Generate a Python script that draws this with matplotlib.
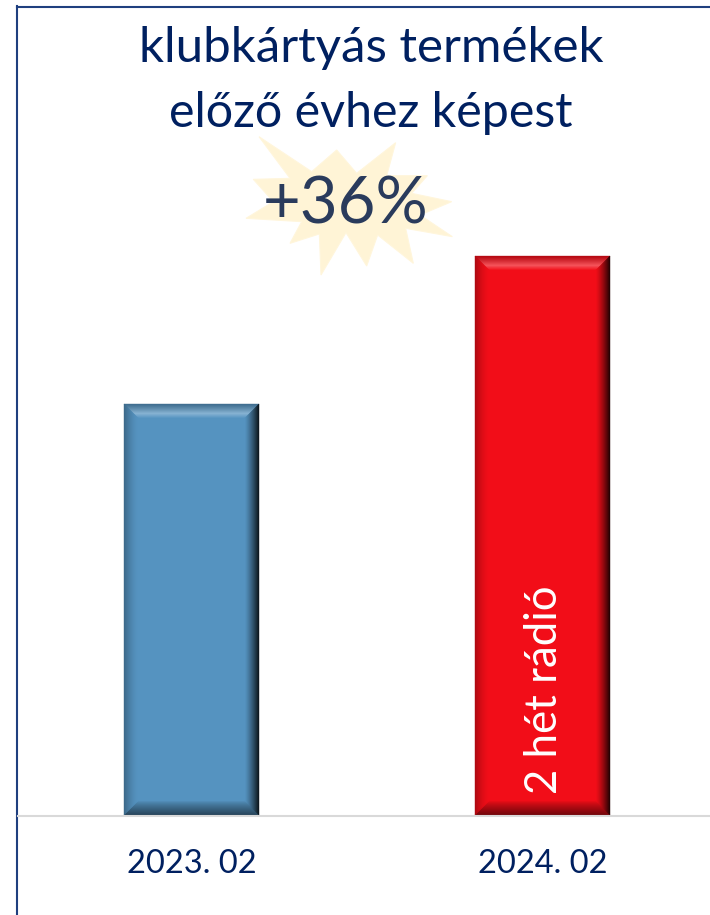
import numpy as np
import matplotlib
matplotlib.use("Agg")
import matplotlib.pyplot as plt
from matplotlib.patches import Polygon
from matplotlib.lines import Line2D
from matplotlib.colors import to_rgb

categories = ["2023. 02", "2024. 02"]
values = [100, 136]
bar_colors = ["#5593C0", "#F20D18"]
title_lines = ["klubkártyás termékek", "előző évhez képest"]
badge_text = "+36%"
bar_note = "2 hét rádió"

W, H = 710, 915
NAVY = "#002060"
plt.rcParams["font.family"] = ["Lato", "DejaVu Sans"]

fig = plt.figure(figsize=(W / 100, H / 100), dpi=100)
L, R, T, B = 17, 710, 6, 815
ax = fig.add_axes([L / W, 1 - B / H, (R - L) / W, (B - T) / H])
ax.set_xlim(-174.5 / 351, 1 + 167.5 / 351)
ax.set_ylim(0, (B - T) / 4.11)
ax.axis("off")


def px(x, y):
    return (x / W, 1 - y / H)


def mix(c, t, a):
    c, t = np.array(to_rgb(c)), np.array(to_rgb(t))
    return tuple(c + (t - c) * a)


def top_shade(col, u):
    # dark rim, bright ridge about two thirds in, then back to the face
    if u < 0.65:
        v = u / 0.65
        return mix(mix(col, "#000000", 0.25), mix(col, "#FFFFFF", 0.30), v ** 1.1)
    v = (u - 0.65) / 0.35
    return mix(mix(col, "#FFFFFF", 0.30), col, v)


bars = ax.bar(range(len(values)), values, width=135 / 351, color=bar_colors,
              linewidth=0, zorder=2)

# bevelled edge of every bar, built from the bar's own geometry
bevel = 15
inv = ax.transData.inverted()
for bar, col in zip(bars, bar_colors):
    x0, y0 = ax.transData.transform((bar.get_x(), 0))
    x1, y1 = ax.transData.transform((bar.get_x() + bar.get_width(), bar.get_height()))
    n = bevel
    for i in range(n):
        a, b = i, i + 1
        u = i / (n - 1)
        top = top_shade(col, u)
        left = mix(col, "#000000", 0.28 * (1 - u) ** 1.6)
        right = mix(col, "#000000", 0.85 * (1 - u) ** 1.3)
        bot = mix(col, "#000000", 0.52 * (1 - u) ** 0.8)
        sides = [
            ([(x0 + a, y1 - a), (x1 - a, y1 - a), (x1 - b, y1 - b), (x0 + b, y1 - b)], top),
            ([(x0 + a, y0 + a), (x1 - a, y0 + a), (x1 - b, y0 + b), (x0 + b, y0 + b)], bot),
            ([(x0 + a, y0 + a), (x0 + a, y1 - a), (x0 + b, y1 - b), (x0 + b, y0 + b)], left),
            ([(x1 - a, y0 + a), (x1 - a, y1 - a), (x1 - b, y1 - b), (x1 - b, y0 + b)], right),
        ]
        for pts, c in sides:
            ax.add_patch(Polygon(inv.transform(pts), closed=True, facecolor=c,
                                 edgecolor=c, linewidth=0.3, zorder=3))

# frame and baseline
fig.add_artist(Line2D([17 / W, 17 / W], [0, 1 - 5.5 / H], color="#1F3F7F", lw=1.5))
fig.add_artist(Line2D([16.5 / W, 1], [1 - 6.5 / H, 1 - 6.5 / H], color="#1F3F7F", lw=1.5))
fig.add_artist(Line2D([18 / W, 1], [1 - 815.5 / H] * 2, color="#D9D9D9", lw=1.5))

star_crop = [(57, 20), (215, 125), (290, 60), (350, 130), (467, 38), (440, 137), (562, 137),
             (515, 190), (635, 215), (540, 255), (637, 320), (497, 295), (520, 400), (413, 315),
             (380, 408), (318, 308), (243, 435), (238, 312), (150, 340), (185, 275), (18, 265),
             (100, 215), (40, 148), (150, 145)]
fig.add_artist(Polygon([px(240 + x / 3, 130 + y / 3) for x, y in star_crop], closed=True,
                       facecolor="#FFF4D6", edgecolor="#FFF6DC", linewidth=0.8,
                       transform=fig.transFigure, zorder=1))

fig.text(371.5 / W, 1 - 62 / H, title_lines[0], color=NAVY, fontsize=35.5, ha="center", va="baseline")
fig.text(370.5 / W, 1 - 127 / H, title_lines[1], color=NAVY, fontsize=34.8, ha="center", va="baseline")
fig.text(346 / W, 1 - 223 / H, badge_text, color="#2A3B5C", fontsize=47, ha="center", va="baseline", zorder=5)
for i, lab in enumerate(categories):
    ax.text(i, -14.1, lab, color=NAVY, fontsize=23.5, ha="center", va="baseline", clip_on=False)
ax.text(1.005, 5, bar_note, color="white", fontsize=31.5, rotation=90, ha="center", va="bottom", zorder=6)

fig.savefig("out.png", dpi=100)
